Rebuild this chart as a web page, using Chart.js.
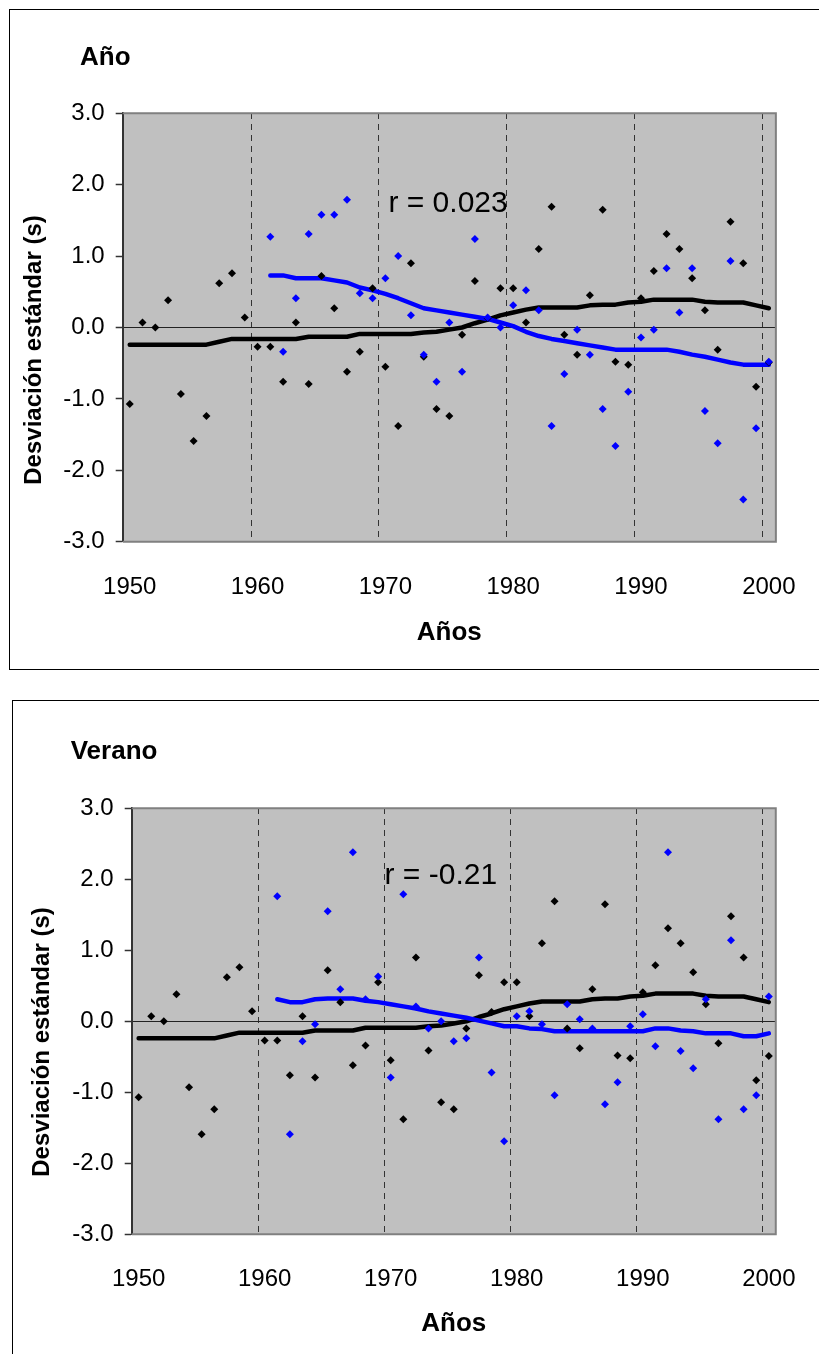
<!DOCTYPE html>
<html>
<head>
<meta charset="utf-8">
<script src="https://cdn.jsdelivr.net/npm/chart.js@4.4.0/dist/chart.umd.min.js"></script>
<style>
  html, body { margin: 0; background: #fff; overflow: hidden; }
  body { position: relative; width: 819px; height: 1354px; }
  .box { position: absolute; border: 1px solid #000; }
  canvas { position: absolute; left: 0; }
</style>
</head>
<body>
<div class="box" style="left:9px;top:9px;width:900px;height:659px"></div>
<div class="box" style="left:12px;top:700px;width:900px;height:700px"></div>
<canvas id="chartAnio" width="819" height="680" style="top:0;width:819px;height:680px"></canvas>
<canvas id="chartVerano" width="819" height="664" style="top:690px;width:819px;height:664px"></canvas>

<script>
// years on the x axis
const years = Array.from({ length: 51 }, (_, i) => 1950 + i);      // 1950..2000
const yearsBlue = Array.from({ length: 40 }, (_, i) => 1961 + i);  // 1961..2000
const xTickYears = [1950, 1960, 1970, 1980, 1990, 2000];
const decadeBreaks = [1959.5, 1969.5, 1979.5, 1989.5, 1999.5];
const yTicks = [-3, -2, -1, 0, 1, 2, 3];

// black series (same in both panels)
const blackPts = [
  -1.07, 0.07, 0.00, 0.38, -0.93, -1.59, -1.24, 0.62, 0.76, 0.14,
  -0.27, -0.27, -0.76, 0.07, -0.79, 0.72, 0.27, -0.62, -0.34, 0.55,
  -0.55, -1.38, 0.90, -0.41, -1.14, -1.24, -0.10, 0.65, 0.13, 0.55,
  0.55, 0.07, 1.10, 1.69, -0.10, -0.38, 0.45, 1.65, -0.48, -0.52,
  0.41, 0.79, 1.31, 1.10, 0.69, 0.24, -0.31, 1.48, 0.90, -0.83,
  -0.49
];
const blackLine = [
  -0.24, -0.24, -0.24, -0.24, -0.24, -0.24, -0.24, -0.20, -0.16, -0.16,
  -0.16, -0.16, -0.16, -0.16, -0.13, -0.13, -0.13, -0.13, -0.09, -0.09,
  -0.09, -0.09, -0.09, -0.07, -0.06, -0.03, 0.00, 0.06, 0.11, 0.17,
  0.21, 0.25, 0.28, 0.28, 0.28, 0.28, 0.31, 0.32, 0.32, 0.35,
  0.36, 0.39, 0.39, 0.39, 0.39, 0.36, 0.35, 0.35, 0.35, 0.31,
  0.27
];

// blue series, panel "Año"
const bluePtsAnio = [
  1.27, -0.34, 0.41, 1.31, 1.58, 1.58, 1.79, 0.48, 0.41, 0.69,
  1.00, 0.17, -0.38, -0.76, 0.07, -0.62, 1.24, 0.14, 0.00, 0.31,
  0.52, 0.24, -1.38, -0.65, -0.03, -0.38, -1.14, -1.66, -0.90, -0.14,
  -0.03, 0.83, 0.21, 0.83, -1.17, -1.62, 0.93, -2.41, -1.41, -0.48
];
const blueLineAnio = [
  0.73, 0.73, 0.69, 0.69, 0.69, 0.66, 0.63, 0.56, 0.52, 0.47,
  0.41, 0.34, 0.27, 0.24, 0.21, 0.18, 0.15, 0.12, 0.07, 0.02,
  -0.06, -0.12, -0.16, -0.19, -0.22, -0.25, -0.28, -0.31, -0.31, -0.31,
  -0.31, -0.31, -0.34, -0.38, -0.41, -0.45, -0.49, -0.52, -0.52, -0.52
];

// blue series, panel "Verano"
const bluePtsVerano = [
  1.76, -1.59, -0.28, -0.04, 1.55, 0.45, 2.38, 0.31, 0.63, -0.79,
  1.79, 0.21, -0.10, 0.00, -0.28, -0.24, 0.90, -0.72, -1.69, 0.07,
  0.14, -0.04, -1.04, 0.24, 0.03, -0.10, -1.17, -0.86, -0.07, 0.10,
  -0.35, 2.38, -0.42, -0.66, 0.31, -1.38, 1.14, -1.24, -1.04, 0.35
];
const blueLineVerano = [
  0.31, 0.27, 0.27, 0.31, 0.32, 0.32, 0.32, 0.29, 0.27, 0.24,
  0.21, 0.18, 0.14, 0.11, 0.08, 0.05, 0.01, -0.03, -0.07, -0.07,
  -0.10, -0.11, -0.14, -0.14, -0.14, -0.14, -0.14, -0.14, -0.14, -0.14,
  -0.10, -0.10, -0.13, -0.14, -0.17, -0.17, -0.17, -0.21, -0.21, -0.17
];

const FONT = "'Liberation Sans', Arial, sans-serif";
const Y_TITLE = 'Desviación estándar (s)';

function pts(xs, ys) {
  return xs.map((x, i) => ({ x: x, y: ys[i] }));
}

// grey plot area, frame, panel title, y title and r note
const plotDecor = {
  id: 'plotDecor',
  beforeDraw(chart) {
    const a = chart.chartArea, ctx = chart.ctx;
    ctx.save();
    ctx.fillStyle = '#c0c0c0';
    ctx.fillRect(a.left, a.top, a.right - a.left, a.bottom - a.top);
    ctx.restore();
  },
  beforeDatasetsDraw(chart) {
    const a = chart.chartArea, ctx = chart.ctx;
    ctx.save();
    ctx.strokeStyle = '#808080';
    ctx.lineWidth = 2;
    ctx.beginPath();
    ctx.moveTo(a.left, a.top);
    ctx.lineTo(a.right, a.top);
    ctx.lineTo(a.right, a.bottom);
    ctx.lineTo(a.left, a.bottom);
    ctx.stroke();
    ctx.restore();
  },
  afterDraw(chart, args, opts) {
    const ctx = chart.ctx;
    ctx.save();
    ctx.fillStyle = '#000';
    ctx.font = 'bold 26px ' + FONT;
    ctx.textAlign = 'left';
    ctx.textBaseline = 'alphabetic';
    ctx.fillText(opts.title, opts.titleX, opts.titleY);

    // rotated y axis title
    ctx.save();
    ctx.translate(opts.yTitleX, opts.yTitleY);
    ctx.rotate(-Math.PI / 2);
    ctx.font = 'bold 24px ' + FONT;
    ctx.textAlign = 'center';
    ctx.textBaseline = 'middle';
    ctx.fillText(Y_TITLE, 0, 0);
    ctx.restore();

    ctx.font = '30px ' + FONT;
    ctx.textAlign = 'left';
    ctx.textBaseline = 'middle';
    ctx.fillText(opts.note, chart.scales.x.getPixelForValue(opts.noteX),
                 chart.scales.y.getPixelForValue(opts.noteY));
    ctx.restore();
  }
};

function makeChart(id, p) {
  const ctx = document.getElementById(id).getContext('2d');
  return new Chart(ctx, {
    type: 'scatter',
    data: {
      datasets: [
        {
          data: pts(yearsBlue, p.bluePts),
          pointStyle: 'rectRot', pointRadius: 4, pointBorderWidth: 0,
          backgroundColor: '#0000ff', borderColor: '#0000ff'
        },
        {
          data: pts(years, blackPts),
          pointStyle: 'rectRot', pointRadius: 4, pointBorderWidth: 0,
          backgroundColor: '#000', borderColor: '#000'
        },
        {
          data: pts(yearsBlue, p.blueLine),
          showLine: true, pointRadius: 0, borderColor: '#0000ff', borderWidth: 4.5,
          borderCapStyle: 'round', borderJoinStyle: 'round'
        },
        {
          data: pts(years, blackLine),
          showLine: true, pointRadius: 0, borderColor: '#000', borderWidth: 4.5,
          borderCapStyle: 'round', borderJoinStyle: 'round'
        }
      ]
    },
    options: {
      responsive: false,
      animation: false,
      layout: { padding: { left: 0, right: p.padRight, top: p.padTop, bottom: 0 } },
      scales: {
        x: {
          type: 'linear', position: 'bottom', min: 1949.45, max: 2000.55,
          afterBuildTicks: s => { s.ticks = xTickYears.map(v => ({ value: v })); },
          afterFit: s => { s.height = p.xAxisHeight; },
          ticks: { color: '#000', font: { family: FONT, size: 24 }, padding: 23, callback: v => String(v) },
          grid: { display: false },
          border: { display: false },
          title: {
            display: true, text: 'Años', color: '#000',
            font: { family: FONT, size: 26, weight: 'bold' },
            padding: { top: 0, bottom: p.xTitlePad }
          }
        },
        xg: {
          type: 'linear', position: 'top', min: 1949.45, max: 2000.55,
          afterBuildTicks: s => { s.ticks = decadeBreaks.map(v => ({ value: v })); },
          afterFit: s => { s.height = 0; },
          ticks: { display: false },
          grid: { color: '#333', lineWidth: 1, drawTicks: false },
          border: { display: false, dash: [6, 5] }
        },
        y: {
          type: 'linear', min: -3, max: 3,
          afterBuildTicks: s => { s.ticks = yTicks.map(v => ({ value: v })); },
          afterFit: s => { s.width = p.yAxisWidth; },
          ticks: { color: '#000', font: { family: FONT, size: 24 }, padding: 11, callback: v => v.toFixed(1) },
          grid: {
            color: c => (c.tick && c.tick.value === 0 ? '#222' : 'rgba(0,0,0,0)'),
            lineWidth: 1, tickLength: 7, tickColor: '#333', tickWidth: 1.5
          },
          border: { display: true, color: '#333', width: 2 },
          title: { display: false }
        }
      },
      plugins: {
        legend: { display: false },
        tooltip: { enabled: false },
        plotDecor: p.decor
      }
    },
    plugins: [plotDecor]
  });
}

makeChart('chartAnio', {
  bluePts: bluePtsAnio, blueLine: blueLineAnio,
  padRight: 38.3, padTop: 113.3, xAxisHeight: 138.3, yAxisWidth: 122.7,
  xTitlePad: 31.4,
  decor: {
    title: 'Año', titleX: 80, titleY: 65,
    yTitleX: 34, yTitleY: 350,
    note: 'r = 0.023', noteX: 1970.24, noteY: 1.73
  }
});

makeChart('chartVerano', {
  bluePts: bluePtsVerano, blueLine: blueLineVerano,
  padRight: 30.7, padTop: 118.3, xAxisHeight: 119.7, yAxisWidth: 131.7,
  xTitlePad: 14.4,
  decor: {
    title: 'Verano', titleX: 70.7, titleY: 69,
    yTitleX: 42.7, yTitleY: 352,
    note: 'r = -0.21', noteX: 1969.51, noteY: 2.05
  }
});
</script>
</body>
</html>
